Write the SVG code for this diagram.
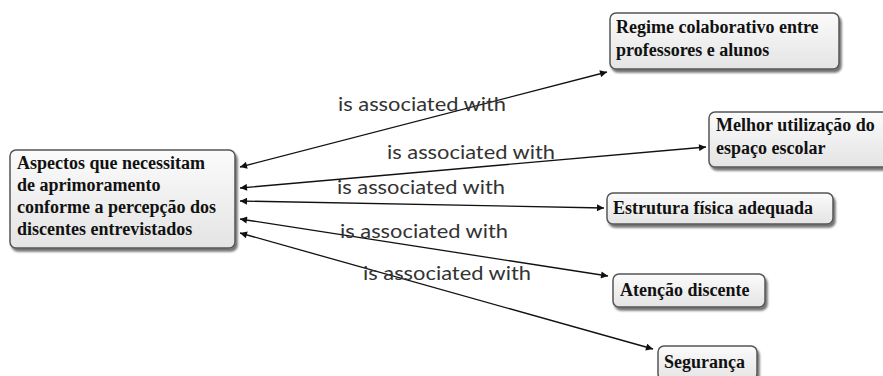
<svg xmlns="http://www.w3.org/2000/svg" width="883" height="376" viewBox="0 0 883 376">
<defs>
<linearGradient id="g" x1="0" y1="0" x2="0" y2="1">
<stop offset="0" stop-color="#fbfbfb"/>
<stop offset="1" stop-color="#e4e4e4"/>
</linearGradient>
<filter id="sh" x="-10%" y="-10%" width="130%" height="140%">
<feDropShadow dx="2" dy="3" stdDeviation="1.2" flood-color="#000" flood-opacity="0.55"/>
</filter>
<marker id="ah" viewBox="0 0 10 10" refX="10" refY="5" markerWidth="9" markerHeight="7" markerUnits="userSpaceOnUse" orient="auto-start-reverse">
<path d="M0,0 L10,5 L0,10 z" fill="#111"/>
</marker>
</defs>
<style>
.box{fill:url(#g);stroke:#555;stroke-width:1.5;filter:url(#sh)}
.nt{font-family:"Liberation Serif","Times New Roman",serif;font-weight:bold;font-size:18px;fill:#111}
.edge{stroke:#111;stroke-width:1.3;fill:none;marker-start:url(#ah);marker-end:url(#ah)}
.lbl{font-family:Lato,"Open Sans",sans-serif;font-size:20px;fill:#333}
</style>
<rect width="883" height="376" fill="#fff"/>
<g id="connectors">
<line class="edge" x1="240" y1="167" x2="607" y2="72"/>
<line class="edge" x1="240" y1="188" x2="706" y2="147"/>
<line class="edge" x1="240" y1="201" x2="604" y2="208"/>
<line class="edge" x1="240" y1="219" x2="608" y2="276"/>
<line class="edge" x1="240" y1="233" x2="653" y2="349"/>
<text class="lbl" x="338" y="111" textLength="168" lengthAdjust="spacingAndGlyphs">is associated with</text>
<text class="lbl" x="387" y="159" textLength="168" lengthAdjust="spacingAndGlyphs">is associated with</text>
<text class="lbl" x="337" y="194" textLength="168" lengthAdjust="spacingAndGlyphs">is associated with</text>
<text class="lbl" x="340" y="238" textLength="168" lengthAdjust="spacingAndGlyphs">is associated with</text>
<text class="lbl" x="363" y="280" textLength="168" lengthAdjust="spacingAndGlyphs">is associated with</text>
</g>
<g id="n0">
<rect class="box" x="10" y="150" width="225" height="98" rx="6"/>
<text class="nt" x="17" y="169">Aspectos que necessitam</text>
<text class="nt" x="17" y="191">de aprimoramento</text>
<text class="nt" x="17" y="213">conforme a percepção dos</text>
<text class="nt" x="17" y="235">discentes entrevistados</text>
</g>
<g id="n1">
<rect class="box" x="610" y="13" width="229" height="56" rx="6"/>
<text class="nt" x="616" y="33">Regime colaborativo entre</text>
<text class="nt" x="616" y="56">professores e alunos</text>
</g>
<g id="n2">
<rect class="box" x="709" y="112" width="180" height="55" rx="6"/>
<text class="nt" x="716" y="131">Melhor utilização do</text>
<text class="nt" x="716" y="154">espaço escolar</text>
</g>
<g id="n3">
<rect class="box" x="607" y="193" width="226" height="31" rx="6"/>
<text class="nt" x="613" y="214">Estrutura física adequada</text>
</g>
<g id="n4">
<rect class="box" x="613" y="274" width="152" height="33" rx="6"/>
<text class="nt" x="620" y="296">Atenção discente</text>
</g>
<g id="n5">
<rect class="box" x="658" y="346" width="99" height="34" rx="6"/>
<text class="nt" x="664" y="368">Segurança</text>
</g>
</svg>
